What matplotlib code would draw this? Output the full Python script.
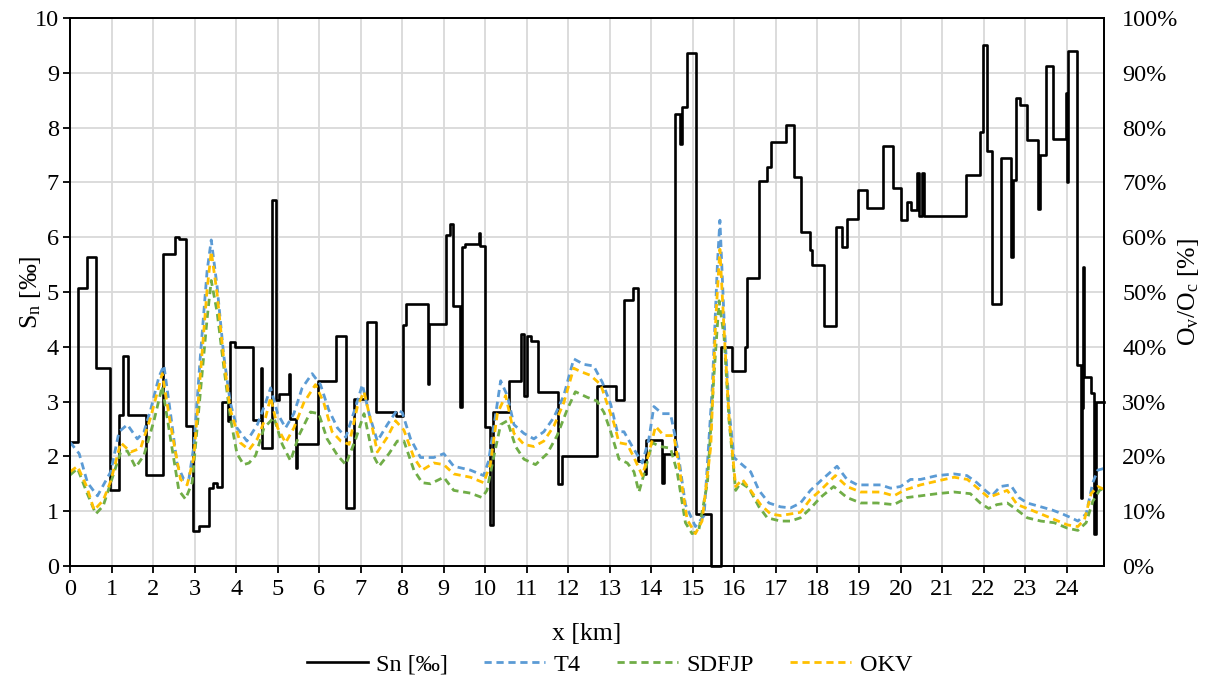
import matplotlib.pyplot as plt
from matplotlib.ticker import PercentFormatter

plt.rcParams['font.family'] = ['Liberation Serif', 'DejaVu Serif']
plt.rcParams['mathtext.fontset'] = 'custom'
plt.rcParams['mathtext.rm'] = 'Liberation Serif'
plt.rcParams['mathtext.it'] = 'Liberation Serif:italic'

# Sn [permille] - step profile: start of each segment [km] and its value
sn_x = [0, 0.19, 0.42, 0.63, 0.96, 1.18, 1.28, 1.40, 1.83, 2.24, 2.52, 2.62, 2.80, 2.96, 3.10,
        3.34, 3.44, 3.54, 3.65, 3.80, 3.86, 3.98, 4.41, 4.61, 4.63, 4.87, 4.97, 5.02, 5.27, 5.29,
        5.43, 5.47, 5.97, 6.40, 6.64, 6.85, 7.16, 7.38, 7.84, 8.02, 8.10, 8.61, 8.64, 9.06, 9.14,
        9.22, 9.40, 9.44, 9.52, 9.84, 9.87, 9.99, 10.12, 10.19, 10.57, 10.85, 10.94, 11.00, 11.09,
        11.27, 11.76, 11.85, 12.69, 13.14, 13.34, 13.55, 13.67, 13.84, 13.88, 14.25, 14.30, 14.58,
        14.70, 14.74, 14.85, 15.08, 15.43, 15.67, 15.95, 16.25, 16.31, 16.60, 16.78, 16.88, 17.24,
        17.43, 17.61, 17.83, 17.87, 18.15, 18.45, 18.58, 18.71, 18.97, 19.20, 19.58, 19.81, 20.02,
        20.16, 20.24, 20.40, 20.45, 20.51, 20.56, 21.57, 21.92, 21.98, 22.08, 22.20, 22.42, 22.66,
        22.70, 22.77, 22.87, 23.05, 23.31, 23.36, 23.50, 23.68, 23.98, 24.01, 24.04, 24.26, 24.34,
        24.36, 24.40, 24.42, 24.59, 24.66, 24.70]
sn = [2.26, 5.07, 5.64, 3.61, 1.38, 2.76, 3.83, 2.76, 1.66, 5.70, 6.01, 5.97, 2.56, 0.63, 0.73,
      1.43, 1.52, 1.45, 2.99, 2.65, 4.09, 3.99, 2.66, 3.61, 2.15, 6.67, 3.03, 3.13, 3.51, 2.69,
      1.78, 2.23, 3.38, 4.19, 1.06, 3.05, 4.46, 2.81, 2.73, 4.39, 4.79, 3.33, 4.42, 6.04, 6.24,
      4.74, 2.91, 5.83, 5.87, 6.07, 5.84, 2.53, 0.75, 2.81, 3.37, 4.24, 3.11, 4.19, 4.10,
      3.17, 1.50, 2.00, 3.28, 3.03, 4.86, 5.08, 1.92, 1.68, 2.30, 1.52, 2.04, 8.25,
      7.70, 8.38, 9.37, 0.95, 0.00, 3.99, 3.55, 3.99, 5.26, 7.03, 7.29, 7.74, 8.05,
      7.09, 6.09, 5.76, 5.49, 4.38, 6.19, 5.83, 6.33, 6.87, 6.54, 7.67, 6.89, 6.31,
      6.64, 6.49, 7.17, 6.39, 7.17, 6.39, 7.13, 7.92, 9.50, 7.58, 4.79, 7.44, 5.64,
      7.04, 8.54, 8.42, 7.77, 6.51, 7.50, 9.13, 7.80, 8.64, 7.00, 9.40, 3.66, 1.25,
      2.88, 5.46, 3.45, 3.15, 0.59, 3.00]
x_end = 24.9

# T4 [%]
t4_x = [0, 0.22, 0.42, 0.66, 0.98, 1.18, 1.38, 1.62, 1.78, 1.94, 2.14, 2.26, 2.42, 2.58, 2.74,
        2.86, 2.98, 3.14, 3.30, 3.40, 3.54, 3.70, 3.86, 4.02, 4.26, 4.51, 4.71, 4.83, 5.0, 5.19,
        5.39, 5.59, 5.83, 6.03, 6.23, 6.44, 6.64, 6.88, 7.04, 7.20, 7.40, 7.64, 7.88, 8.0, 8.20,
        8.44, 8.76, 9.0, 9.24, 9.64, 9.96, 10.08, 10.2, 10.37, 10.53, 10.69, 10.93, 11.17, 11.41,
        11.65, 11.89, 12.13, 12.37, 12.61, 12.82, 13.02, 13.18, 13.34, 13.54, 13.78, 13.94, 14.06,
        14.26, 14.46, 14.62, 14.82, 15.06, 15.27, 15.47, 15.59, 15.65, 15.75, 15.87, 15.99, 16.23,
        16.39, 16.59, 16.83, 17.11, 17.35, 17.59, 17.83, 18.07, 18.47, 18.71, 18.96, 19.20, 19.52,
        19.76, 20.0, 20.24, 20.48, 20.88, 21.29, 21.6, 21.84, 22.04, 22.2, 22.4, 22.65, 22.85,
        23.05, 23.38, 23.66, 23.90, 24.11, 24.27, 24.47, 24.63, 24.75, 24.9]
t4 = [22.6, 20.5, 15.2, 12.8, 17.2, 24.5, 25.8, 23.2, 24.5, 28.5, 34.5, 36.6, 27.8, 18.5, 15.8,
      15.8, 21.8, 38.5, 53.8, 59.5, 51.1, 38.5, 29.8, 25.2, 22.8, 25.8, 29.8, 32.5, 27.8, 25.2,
      27.8, 32.5, 35.1, 33.1, 28.5, 25.2, 23.5, 29.1, 33.1, 27.8, 22.8, 25.8, 28.5, 28.0, 23.2,
      19.8, 19.8, 20.5, 18.2, 17.5, 16.5, 19.2, 25.2, 33.8, 31.1, 25.8, 24.2, 23.2, 24.5,
      27.1, 31.1, 37.8, 36.8, 36.5, 33.5, 29.5, 24.5, 24.5, 21.8, 18.8, 23.2, 29.1,
      27.8, 27.8, 21.8, 11.2, 7.2, 9.2, 33.1, 55.1, 63.1, 45.1, 28.5, 19.8, 18.2,
      17.2, 13.8, 11.5, 10.8, 10.6, 11.5, 13.8, 15.5, 18.2, 15.8, 14.8, 14.8, 14.8,
      14.2, 14.5, 15.8, 15.8, 16.5, 16.8, 16.5, 15.2, 13.8, 12.8, 14.5, 14.8, 12.5,
      11.5, 10.8, 10.2, 9.5, 8.8, 8.2, 9.5, 15.2, 17.5, 17.8]

# SDFJP [%]
sdfjp_x = [0, 0.18, 0.40, 0.62, 0.80, 0.98, 1.22, 1.38, 1.58, 1.78, 2.02, 2.22, 2.42, 2.62, 2.78,
           2.94, 3.14, 3.30, 3.40, 3.54, 3.70, 3.86, 4.02, 4.18, 4.31, 4.47, 4.67, 4.91, 5.11, 5.31,
           5.51, 5.79, 5.99, 6.19, 6.44, 6.64, 6.88, 7.08, 7.28, 7.44, 7.68, 7.88, 8.04, 8.28, 8.48,
           8.68, 9.0, 9.24, 9.64, 9.92, 10.04, 10.2, 10.37, 10.53, 10.73, 10.93, 11.21, 11.49, 11.73,
           11.97, 12.17, 12.45, 12.69, 12.86, 13.02, 13.22, 13.42, 13.58, 13.70, 13.86, 14.02, 14.22,
           14.46, 14.62, 14.82, 14.98, 15.14, 15.35, 15.51, 15.63, 15.75, 15.87, 16.03, 16.15, 16.35,
           16.59, 16.79, 17.11, 17.35, 17.59, 17.83, 18.07, 18.39, 18.71, 19.04, 19.44, 19.84, 20.16,
           20.48, 20.88, 21.29, 21.68, 21.92, 22.12, 22.32, 22.57, 22.81, 23.05, 23.38, 23.70, 24.02,
           24.27, 24.47, 24.63, 24.79, 24.9]
sdfjp = [16.6, 17.8, 13.5, 9.5, 11.0, 15.2, 20.8, 21.0, 18.0, 20.2, 26.5, 32.8, 23.2, 13.8, 12.2,
         15.2, 31.8, 45.1, 52.1, 46.4, 36.5, 27.1, 20.5, 18.5, 18.8, 20.2, 25.2, 27.1, 22.2, 19.2,
         23.8, 28.1, 27.8, 23.2, 20.2, 18.5, 23.2, 27.8, 20.5, 18.2, 20.5, 22.8, 22.8, 17.5, 15.2,
         15.0, 16.2, 13.8, 13.3, 12.5, 13.8, 19.8, 25.8, 26.5, 21.8, 19.5, 18.5, 20.5, 23.8,
         28.5, 31.8, 30.8, 30.1, 28.0, 24.5, 19.5, 18.8, 17.2, 13.5, 17.8, 22.5, 21.8,
         21.5, 17.2, 7.9, 5.9, 6.5, 15.2, 35.1, 48.4, 41.8, 26.5, 13.8, 15.2, 14.2,
         10.8, 8.8, 8.2, 8.2, 8.8, 10.5, 12.5, 14.5, 12.5, 11.5, 11.5, 11.2, 12.5,
         12.8, 13.2, 13.5, 13.2, 11.5, 10.5, 11.2, 11.5, 10.2, 8.8, 8.2, 7.9, 6.9,
         6.5, 7.9, 11.8, 13.8, 14.2]

# OKV [%]
okv_x = [0, 0.18, 0.40, 0.58, 0.80, 0.98, 1.22, 1.46, 1.70, 1.94, 2.22, 2.42, 2.66, 2.82, 2.98,
         3.14, 3.30, 3.40, 3.54, 3.70, 3.86, 4.10, 4.31, 4.51, 4.71, 4.83, 5.0, 5.19, 5.39, 5.63,
         5.91, 6.11, 6.31, 6.52, 6.72, 6.92, 7.08, 7.28, 7.40, 7.64, 7.84, 8.04, 8.28, 8.48, 8.76,
         9.0, 9.24, 9.64, 9.96, 10.12, 10.29, 10.49, 10.69, 10.93, 11.17, 11.41, 11.65, 11.89, 12.13,
         12.29, 12.53, 12.78, 12.94, 13.10, 13.22, 13.42, 13.58, 13.78, 13.94, 14.10, 14.30, 14.54,
         14.66, 14.86, 15.06, 15.22, 15.43, 15.55, 15.65, 15.75, 15.87, 16.03, 16.19, 16.39, 16.63,
         16.87, 17.11, 17.59, 17.83, 18.07, 18.43, 18.71, 19.04, 19.52, 19.84, 20.08, 20.48, 20.88,
         21.29, 21.61, 21.92, 22.12, 22.36, 22.57, 22.81, 23.05, 23.38, 23.70, 24.02, 24.27, 24.43,
         24.59, 24.75, 24.9]
okv = [17.2, 18.2, 14.5, 10.2, 12.0, 15.5, 22.5, 20.8, 21.5, 27.1, 35.1, 25.8, 15.8, 14.8, 19.8,
       35.1, 50.4, 57.4, 49.8, 37.8, 28.5, 22.5, 21.2, 23.2, 27.1, 30.8, 25.2, 22.5, 25.2, 29.8,
       33.1, 29.8, 24.5, 22.8, 22.2, 29.1, 31.8, 25.2, 20.8, 23.5, 26.5, 24.8, 19.8, 17.5, 18.8,
       18.5, 16.8, 16.2, 15.2, 18.5, 27.8, 31.1, 24.2, 22.2, 21.8, 22.8, 25.5, 29.8, 36.1,
       35.5, 34.8, 33.1, 29.5, 26.0, 22.5, 22.2, 19.8, 16.5, 20.5, 25.5, 23.8, 23.8,
       18.5, 8.5, 5.9, 8.2, 21.8, 45.1, 57.8, 43.1, 27.1, 14.5, 15.8, 13.8, 11.2,
       9.5, 9.2, 9.8, 12.2, 13.8, 16.5, 14.5, 13.5, 13.5, 12.8, 13.8, 14.8, 15.5,
       16.2, 15.8, 13.8, 12.5, 13.2, 13.8, 11.2, 10.5, 9.5, 8.5, 7.5, 7.2, 8.5,
       13.2, 14.5, 14.0]

fig = plt.figure(figsize=(12.14, 6.84), dpi=100)
ax = fig.add_axes([0.0577, 0.1725, 0.8517, 0.8012])
ax2 = ax.twinx()

ax.grid(True, color='#d9d9d9', lw=1.3)
ax.set_axisbelow(True)

dash = (2.6, 1.7)
l_sn, = ax.plot(sn_x + [x_end], sn + [sn[-1]], drawstyle='steps-post', color='black',
                lw=1.9, label='Sn [‰]', clip_on=False, zorder=3)
l_t4, = ax2.plot(t4_x, t4, color='#5B9BD5', lw=2.0, dashes=dash, label='T4')
l_sd, = ax2.plot(sdfjp_x, sdfjp, color='#70AD47', lw=2.0, dashes=dash, label='SDFJP')
l_ok, = ax2.plot(okv_x, okv, color='#FFC000', lw=2.0, dashes=dash, label='OKV')

ax.set_xlim(0, x_end)
ax.set_ylim(0, 10)
ax2.set_ylim(0, 100)
ax.set_xticks(range(0, 25))
ax.set_yticks(range(0, 11))
ax2.set_yticks(range(0, 101, 10))
ax2.yaxis.set_major_formatter(PercentFormatter(decimals=0))

ax.tick_params(axis='both', labelsize=17.5, direction='out', length=5, width=1.3, color='black')
ax.tick_params(axis='x', pad=4)
ax.tick_params(axis='y', pad=3)
ax2.tick_params(axis='y', labelsize=17.5, length=0, pad=13)

for a in (ax, ax2):
    for s in a.spines.values():
        s.set_color('black')
        s.set_linewidth(1.3)

fig.text(0.4835, 0.073, 'x [km]', fontsize=18.5, ha='center', va='center')
fig.text(0.025, 0.573, 'S$_\\mathrm{n}$ [‰]', fontsize=18.5, rotation=90, ha='center', va='center')
fig.text(0.979, 0.573, 'O$_\\mathrm{v}$/O$_\\mathrm{c}$ [%]', fontsize=18.5, rotation=90,
         ha='center', va='center')

fig.legend([l_sn, l_t4, l_sd, l_ok], ['Sn [‰]', 'T4', 'SDFJP', 'OKV'], loc='center',
           bbox_to_anchor=(0.502, 0.028), ncol=4, frameon=False, fontsize=17.5,
           handlelength=2.5, handletextpad=0.35, columnspacing=1.5)

plt.savefig('out.png', dpi=100)
